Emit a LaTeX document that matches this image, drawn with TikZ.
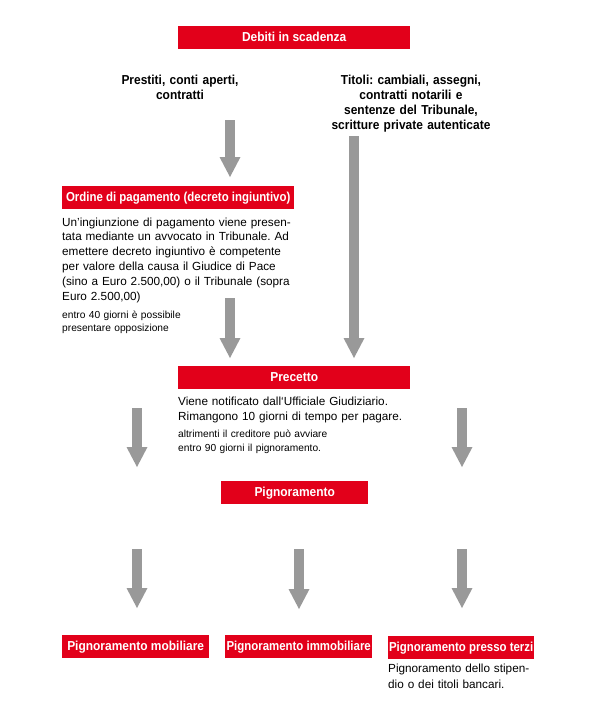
\documentclass[tikz,border=0pt]{standalone}
\usepackage{fontspec}
\setmainfont{Liberation Sans}
\newfontfamily\hdfont[FakeStretch=0.92]{Liberation Sans}
\newfontfamily\hdfontc[FakeStretch=0.88]{Liberation Sans}
\usetikzlibrary{arrows.meta}
\definecolor{dred}{RGB}{226,0,26}
\definecolor{agray}{RGB}{153,153,153}
\frenchspacing
\tikzset{
  redbox/.style={fill=dred, text=white, inner sep=0pt, anchor=north west,
    font=\hdfont\bfseries\fontsize{13}{15}\selectfont,
    minimum height=23pt, text height=9.5pt, text depth=2.5pt},
  condensed/.style={font=\hdfontc\bfseries\fontsize{13}{15}\selectfont},
  bodytext/.style={inner sep=0pt, anchor=base west, align=left,
    font=\fontsize{11.75}{14.8}\selectfont},
  smalltext/.style={inner sep=0pt, anchor=base west, align=left,
    font=\fontsize{10.2}{12.6}\selectfont},
  boldtext/.style={inner sep=0pt, anchor=base, align=center,
    font=\hdfont\bfseries\fontsize{13}{15}\selectfont},
  garrow/.style={draw=agray, line width=10pt,
    -{Triangle[width=21pt,length=20pt,line width=0pt]}}
}
\begin{document}
\begin{tikzpicture}[x=1pt,y=-1pt]
\fill[white] (0,0) rectangle (606,713);
\useasboundingbox (0,0) rectangle (606,713);

% boxes
\node[redbox, minimum width=232pt] (debiti) at (178,26) {Debiti in scadenza};
\node[redbox, condensed, minimum width=232pt] (ordine) at (62,186) {Ordine di pagamento (decreto ingiuntivo)};
\node[redbox, minimum width=232pt] (precetto) at (178,366) {Precetto};
\node[redbox, minimum width=147pt] (pign) at (221,481) {Pignoramento};
\node[redbox, minimum width=147pt] (mob) at (62,635) {Pignoramento mobiliare};
\node[redbox, condensed, minimum width=147pt] (immob) at (225,635) {Pignoramento immobiliare};
\node[redbox, condensed, minimum width=146pt] (terzi) at (388,636) {Pignoramento presso terzi};

% texts
\node[boldtext, text width=160pt] (prestiti) at (180,84) {Prestiti, conti aperti,\\contratti};
\node[boldtext, text width=200pt] (titoli) at (411,84) {Titoli: cambiali, assegni,\\contratti notarili e\\sentenze del Tribunale,\\scritture private autenticate};
\node[bodytext, text width=250pt] (ordtxt) at (62,226) {Un’ingiunzione di pagamento viene presen-\\tata mediante un avvocato in Tribunale. Ad\\emettere decreto ingiuntivo è competente\\per valore della causa il Giudice di Pace\\(sino a Euro 2.500,00) o il Tribunale (sopra\\Euro 2.500,00)};
\node[smalltext, text width=200pt] (opp) at (62,318.5) {entro 40 giorni è possibile\\presentare opposizione};
\node[bodytext, text width=260pt, font=\fontsize{11.75}{15}\selectfont] (pretxt) at (178,405.5) {Viene notificato dall‘Ufficiale Giudiziario.\\Rimangono 10 giorni di tempo per pagare.};
\node[smalltext, text width=200pt, font=\fontsize{10.2}{13.5}\selectfont] (altr) at (178,437.5) {altrimenti il creditore può avviare\\entro 90 giorni il pignoramento.};
\node[bodytext, text width=200pt, font=\fontsize{11.75}{16}\selectfont] (terzitxt) at (388,672.5) {Pignoramento dello stipen-\\dio o dei titoli bancari.};

% arrow end points
\coordinate (a1s) at (230,120); \coordinate (a1e) at (230,177);
\coordinate (a2s) at (354,136); \coordinate (a2e) at (354,358);
\coordinate (a3s) at (230,298); \coordinate (a3e) at (230,358);
\coordinate (a4s) at (137,408); \coordinate (a4e) at (137,467);
\coordinate (a5s) at (462,408); \coordinate (a5e) at (462,467);
\coordinate (a6s) at (137,549); \coordinate (a6e) at (137,608);
\coordinate (a7s) at (299,549); \coordinate (a7e) at (299,609);
\coordinate (a8s) at (462,549); \coordinate (a8e) at (462,608);

\foreach \i in {1,...,8} {\draw[garrow] (a\i s) -- (a\i e);}
\end{tikzpicture}
\end{document}
